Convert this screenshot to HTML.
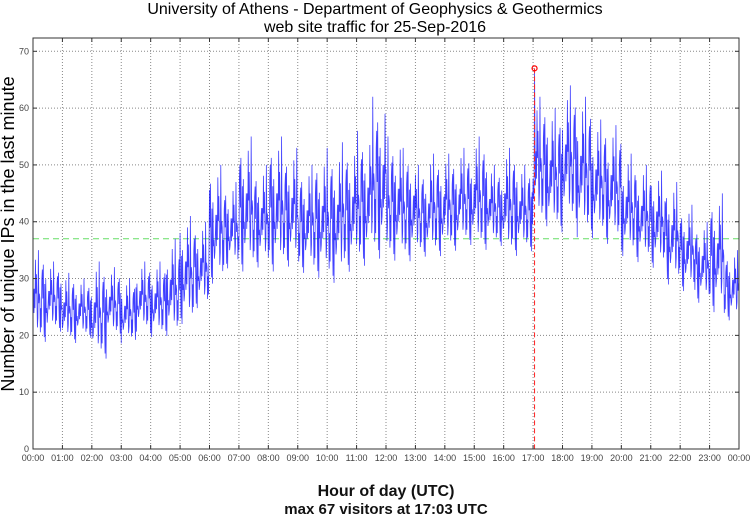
<!DOCTYPE html>
<html><head><meta charset="utf-8"><style>
body{margin:0;background:#fff;width:750px;height:515px;overflow:hidden}
svg{font-family:"Liberation Sans",sans-serif}
</style></head><body>
<svg id="chart" width="750" height="515" viewBox="0 0 750 515">
<text x="375" y="14" text-anchor="middle" font-size="16">University of Athens - Department of Geophysics &amp; Geothermics</text>
<text x="375" y="32" text-anchor="middle" font-size="16">web site traffic for 25-Sep-2016</text>
<text x="386" y="496" text-anchor="middle" font-size="16" font-weight="bold" fill="#111">Hour of day (UTC)</text>
<text x="386" y="514" text-anchor="middle" font-size="15" font-weight="bold" fill="#111">max 67 visitors at 17:03 UTC</text>
<text transform="translate(14,234) rotate(-90)" text-anchor="middle" font-size="18">Number of unique IPs in the last minute</text>
<g id="grid"></g><g id="series"></g><g id="ticks"></g>
<rect x="33" y="38" width="706" height="411" fill="none" stroke="#333" stroke-width="1"/>
</svg>
<script>
const binMinutes = 30;
const binLow  = [18,20,18,19,15,19,18,20,19,19,21,24,28,31,30,31,30,31,30,29,28,30,31,32,32,32,33,33,34,35,34,35,33,34,38,37,38,36,36,35,33,32,31,28,27,25,23,22];
const binHigh = [35,33,31,30,33,32,30,33,33,37,41,40,50,47,55,50,55,53,50,52,53,54,56,62,55,53,50,52,52,53,55,50,53,50,62,60,64,62,58,57,52,50,49,47,43,40,45,35];
const yTicks = [0,10,20,30,40,50,60,70];
const hourLabels = ["00:00","01:00","02:00","03:00","04:00","05:00","06:00","07:00","08:00","09:00","10:00","11:00","12:00","13:00","14:00","15:00","16:00","17:00","18:00","19:00","20:00","21:00","22:00","23:00","00:00"];
const averageValue = 37;
const maxValue = 67;
const maxMinute = 17*60+3;
const jitter = [0.45,0.2,0.7,0.35,0.9,0.5,0.1,0.6,0.3,0.8,0.4,0.55,0.15,0.65,0.35,1.0,0.5,0.25,0.75,0.4,0.05,0.6,0.45,0.85,0.3,0.5,0.2,0.7,0.4,0.55,0.35];

const X0=33,X1=739,Y0=449,Y70=51.3;
const xs = m => X0 + (X1-X0)*m/1440;
const ys = v => Y0 - (Y0-Y70)*v/70;
const NS="http://www.w3.org/2000/svg";
const grid=document.getElementById('grid'), ser=document.getElementById('series'), tk=document.getElementById('ticks');
function mk(tag,attrs,parent){const e=document.createElementNS(NS,tag);for(const k in attrs)e.setAttribute(k,attrs[k]);parent.appendChild(e);return e;}

yTicks.forEach(v=>{
  const y=ys(v);
  if(v>0){const g=mk('line',{x1:X0,x2:X1,y1:y,y2:y,stroke:'#888','stroke-dasharray':'1,2','stroke-width':1},grid);
  
  }
  const t=mk('text',{x:X0-4,y:y+3,'text-anchor':'end','font-size':9,fill:'#444'},tk);t.textContent=v;
  
  
  mk('line',{x1:X0,x2:X0+4,y1:y,y2:y,stroke:'#333'},tk);
  mk('line',{x1:X1-4,x2:X1,y1:y,y2:y,stroke:'#333'},tk);
});
hourLabels.forEach((l,i)=>{
  const x=xs(i*60);
  if(i>0&&i<24){const g=mk('line',{x1:x,x2:x,y1:38,y2:Y0,stroke:'#888','stroke-dasharray':'1,2','stroke-width':1},grid);
  
  }
  const t=mk('text',{x:x,y:461,'text-anchor':'middle','font-size':9,fill:'#444'},tk);t.textContent=l;
  
  
  mk('line',{x1:x,x2:x,y1:38,y2:42,stroke:'#333'},tk);
  mk('line',{x1:x,x2:x,y1:Y0-4,y2:Y0,stroke:'#333'},tk);
});
const avg=mk('line',{x1:X0,x2:X1,y1:ys(averageValue),y2:ys(averageValue),stroke:'#66dd66','stroke-dasharray':'6,4','stroke-width':1},ser);



let pts=[];
for(let m=0;m<1440;m++){
  const b=Math.floor(m/binMinutes);
  let v=binLow[b]+(binHigh[b]-binLow[b])*jitter[(m*7)%jitter.length];
  if(m===maxMinute) v=maxValue;
  pts.push(xs(m).toFixed(2)+','+ys(v).toFixed(2));
}
const line=mk('polyline',{points:pts.join(' '),fill:'none',stroke:'#0000ff','stroke-width':0.8,'stroke-opacity':0.75},ser);



const vl=mk('line',{x1:xs(maxMinute),x2:xs(maxMinute),y1:ys(maxValue),y2:Y0,stroke:'#ff2222','stroke-dasharray':'5,3','stroke-width':1},ser);


const mc=mk('circle',{cx:xs(maxMinute),cy:ys(maxValue),r:2.5,fill:'none',stroke:'#ff0000','stroke-width':1.2},ser);


</script>
</body></html>
